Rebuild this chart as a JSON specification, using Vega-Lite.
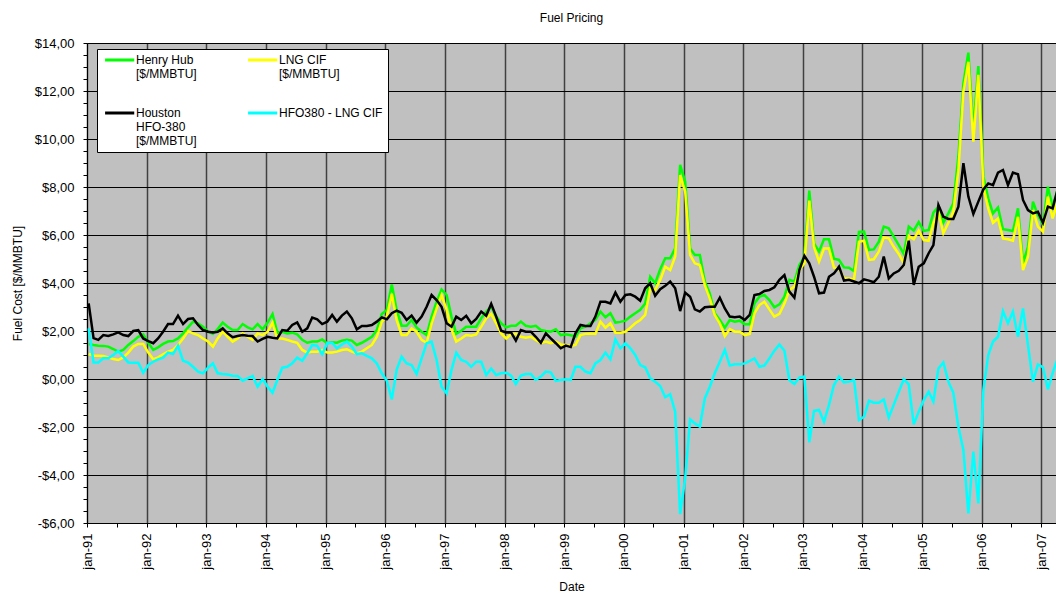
{
  "$schema": "https://vega.github.io/schema/vega-lite/v6.json",
  "width": 969,
  "height": 480,
  "autosize": {"type": "none"},
  "padding": {"left": 87, "top": 43, "right": 0, "bottom": 73},
  "background": "white",
  "title": {"text": "Fuel Pricing", "font": "Liberation Sans", "fontSize": 12, "fontWeight": "normal", "color": "black", "anchor": "middle", "frame": "group", "offset": 12},
  "config": {
    "view": {"fill": "#C0C0C0", "stroke": "#808080", "strokeWidth": 1},
    "axis": {"labelFont": "Liberation Sans", "titleFont": "Liberation Sans", "labelColor": "black", "titleColor": "black", "titleFontWeight": "normal", "labelFontSize": 13, "titleFontSize": 12, "domainColor": "black", "tickColor": "black", "gridColor": "black"},
    "legend": {"labelFont": "Liberation Sans", "labelColor": "black"}
  },
  "data": {"values": [
    {"date":"1991-01","hh":1.46,"lng":1.04,"hfo":3.15,"diff":2.11},
    {"date":"1991-02","hh":1.42,"lng":0.97,"hfo":1.70,"diff":0.69},
    {"date":"1991-03","hh":1.39,"lng":0.97,"hfo":1.63,"diff":0.69},
    {"date":"1991-04","hh":1.38,"lng":0.96,"hfo":1.83,"diff":0.86},
    {"date":"1991-05","hh":1.35,"lng":0.90,"hfo":1.79,"diff":0.86},
    {"date":"1991-06","hh":1.25,"lng":0.83,"hfo":1.86,"diff":1.00},
    {"date":"1991-07","hh":1.14,"lng":0.79,"hfo":1.94,"diff":1.17},
    {"date":"1991-08","hh":1.21,"lng":0.90,"hfo":1.83,"diff":0.93},
    {"date":"1991-09","hh":1.42,"lng":1.10,"hfo":1.79,"diff":0.69},
    {"date":"1991-10","hh":1.58,"lng":1.35,"hfo":2.00,"diff":0.68},
    {"date":"1991-11","hh":1.76,"lng":1.46,"hfo":2.04,"diff":0.68},
    {"date":"1991-12","hh":1.86,"lng":1.46,"hfo":1.69,"diff":0.26},
    {"date":"1992-01","hh":1.51,"lng":1.10,"hfo":1.58,"diff":0.58},
    {"date":"1992-02","hh":1.21,"lng":0.82,"hfo":1.49,"diff":0.72},
    {"date":"1992-03","hh":1.32,"lng":0.90,"hfo":1.69,"diff":0.82},
    {"date":"1992-04","hh":1.46,"lng":1.03,"hfo":1.97,"diff":0.89},
    {"date":"1992-05","hh":1.56,"lng":1.14,"hfo":2.29,"diff":1.10},
    {"date":"1992-06","hh":1.58,"lng":1.21,"hfo":2.29,"diff":1.04},
    {"date":"1992-07","hh":1.69,"lng":1.42,"hfo":2.64,"diff":1.39},
    {"date":"1992-08","hh":1.90,"lng":1.69,"hfo":2.29,"diff":0.76},
    {"date":"1992-09","hh":2.15,"lng":2.00,"hfo":2.50,"diff":0.68},
    {"date":"1992-10","hh":2.39,"lng":1.90,"hfo":2.53,"diff":0.51},
    {"date":"1992-11","hh":2.32,"lng":1.83,"hfo":2.25,"diff":0.31},
    {"date":"1992-12","hh":2.18,"lng":1.69,"hfo":2.04,"diff":0.24},
    {"date":"1993-01","hh":1.97,"lng":1.56,"hfo":1.97,"diff":0.47},
    {"date":"1993-02","hh":1.88,"lng":1.35,"hfo":1.94,"diff":0.65},
    {"date":"1993-03","hh":2.08,"lng":1.69,"hfo":1.97,"diff":0.24},
    {"date":"1993-04","hh":2.35,"lng":1.97,"hfo":2.11,"diff":0.21},
    {"date":"1993-05","hh":2.18,"lng":1.76,"hfo":1.90,"diff":0.19},
    {"date":"1993-06","hh":2.04,"lng":1.56,"hfo":1.74,"diff":0.14},
    {"date":"1993-07","hh":2.04,"lng":1.69,"hfo":1.79,"diff":0.13},
    {"date":"1993-08","hh":2.29,"lng":1.90,"hfo":1.83,"diff":-0.07},
    {"date":"1993-09","hh":2.15,"lng":1.76,"hfo":1.80,"diff":0.03},
    {"date":"1993-10","hh":2.07,"lng":1.63,"hfo":1.79,"diff":0.13},
    {"date":"1993-11","hh":2.29,"lng":1.90,"hfo":1.56,"diff":-0.32},
    {"date":"1993-12","hh":2.07,"lng":1.83,"hfo":1.67,"diff":0.00},
    {"date":"1994-01","hh":2.35,"lng":1.97,"hfo":1.76,"diff":-0.32},
    {"date":"1994-02","hh":2.71,"lng":2.35,"hfo":1.72,"diff":-0.57},
    {"date":"1994-03","hh":1.93,"lng":1.69,"hfo":1.69,"diff":-0.04},
    {"date":"1994-04","hh":1.97,"lng":1.69,"hfo":2.04,"diff":0.47},
    {"date":"1994-05","hh":1.90,"lng":1.63,"hfo":2.01,"diff":0.51},
    {"date":"1994-06","hh":1.93,"lng":1.56,"hfo":2.25,"diff":0.65},
    {"date":"1994-07","hh":1.86,"lng":1.51,"hfo":2.36,"diff":0.89},
    {"date":"1994-08","hh":1.63,"lng":1.21,"hfo":1.97,"diff":0.76},
    {"date":"1994-09","hh":1.51,"lng":1.10,"hfo":2.11,"diff":1.07},
    {"date":"1994-10","hh":1.56,"lng":1.14,"hfo":2.56,"diff":1.42},
    {"date":"1994-11","hh":1.56,"lng":1.14,"hfo":2.49,"diff":1.38},
    {"date":"1994-12","hh":1.65,"lng":1.21,"hfo":2.29,"diff":1.03},
    {"date":"1995-01","hh":1.49,"lng":1.10,"hfo":2.39,"diff":1.49},
    {"date":"1995-02","hh":1.53,"lng":1.10,"hfo":2.67,"diff":1.51},
    {"date":"1995-03","hh":1.51,"lng":1.14,"hfo":2.39,"diff":1.28},
    {"date":"1995-04","hh":1.60,"lng":1.21,"hfo":2.64,"diff":1.44},
    {"date":"1995-05","hh":1.63,"lng":1.24,"hfo":2.81,"diff":1.56},
    {"date":"1995-06","hh":1.60,"lng":1.14,"hfo":2.53,"diff":1.35},
    {"date":"1995-07","hh":1.42,"lng":1.07,"hfo":2.07,"diff":1.04},
    {"date":"1995-08","hh":1.51,"lng":1.14,"hfo":2.21,"diff":1.07},
    {"date":"1995-09","hh":1.63,"lng":1.28,"hfo":2.21,"diff":0.96},
    {"date":"1995-10","hh":1.76,"lng":1.42,"hfo":2.25,"diff":0.86},
    {"date":"1995-11","hh":2.04,"lng":1.76,"hfo":2.39,"diff":0.65},
    {"date":"1995-12","hh":2.71,"lng":2.39,"hfo":2.57,"diff":0.24},
    {"date":"1996-01","hh":2.88,"lng":2.60,"hfo":2.49,"diff":-0.07},
    {"date":"1996-02","hh":3.94,"lng":3.55,"hfo":2.74,"diff":-0.85},
    {"date":"1996-03","hh":2.88,"lng":2.46,"hfo":2.85,"diff":0.38},
    {"date":"1996-04","hh":2.22,"lng":1.83,"hfo":2.76,"diff":0.93},
    {"date":"1996-05","hh":2.22,"lng":1.83,"hfo":2.46,"diff":0.65},
    {"date":"1996-06","hh":2.46,"lng":2.11,"hfo":2.64,"diff":0.58},
    {"date":"1996-07","hh":2.15,"lng":1.97,"hfo":2.35,"diff":0.21},
    {"date":"1996-08","hh":1.97,"lng":1.63,"hfo":2.60,"diff":0.86},
    {"date":"1996-09","hh":1.83,"lng":1.51,"hfo":3.01,"diff":1.49},
    {"date":"1996-10","hh":2.60,"lng":2.32,"hfo":3.50,"diff":1.56},
    {"date":"1996-11","hh":3.22,"lng":2.94,"hfo":3.29,"diff":0.79},
    {"date":"1996-12","hh":3.73,"lng":3.50,"hfo":3.01,"diff":-0.32},
    {"date":"1997-01","hh":3.50,"lng":2.88,"hfo":2.32,"diff":-0.60},
    {"date":"1997-02","hh":2.60,"lng":2.07,"hfo":2.18,"diff":0.38},
    {"date":"1997-03","hh":1.88,"lng":1.56,"hfo":2.60,"diff":1.10},
    {"date":"1997-04","hh":2.01,"lng":1.69,"hfo":2.46,"diff":0.79},
    {"date":"1997-05","hh":2.18,"lng":1.83,"hfo":2.63,"diff":0.72},
    {"date":"1997-06","hh":2.18,"lng":1.80,"hfo":2.32,"diff":0.51},
    {"date":"1997-07","hh":2.18,"lng":1.86,"hfo":2.50,"diff":0.72},
    {"date":"1997-08","hh":2.53,"lng":2.18,"hfo":2.81,"diff":0.72},
    {"date":"1997-09","hh":2.81,"lng":2.53,"hfo":2.64,"diff":0.17},
    {"date":"1997-10","hh":3.01,"lng":2.71,"hfo":3.13,"diff":0.44},
    {"date":"1997-11","hh":2.60,"lng":2.32,"hfo":2.60,"diff":0.17},
    {"date":"1997-12","hh":2.32,"lng":1.90,"hfo":2.01,"diff":0.24},
    {"date":"1998-01","hh":2.15,"lng":1.69,"hfo":1.94,"diff":0.26},
    {"date":"1998-02","hh":2.22,"lng":1.86,"hfo":1.94,"diff":0.14},
    {"date":"1998-03","hh":2.22,"lng":1.88,"hfo":1.60,"diff":-0.21},
    {"date":"1998-04","hh":2.39,"lng":1.76,"hfo":2.04,"diff":0.14},
    {"date":"1998-05","hh":2.22,"lng":1.72,"hfo":1.97,"diff":0.21},
    {"date":"1998-06","hh":2.18,"lng":1.76,"hfo":1.97,"diff":0.21},
    {"date":"1998-07","hh":2.22,"lng":1.63,"hfo":1.76,"diff":-0.04},
    {"date":"1998-08","hh":2.04,"lng":1.49,"hfo":1.51,"diff":0.10},
    {"date":"1998-09","hh":2.00,"lng":1.56,"hfo":1.90,"diff":0.31},
    {"date":"1998-10","hh":1.97,"lng":1.49,"hfo":1.69,"diff":0.28},
    {"date":"1998-11","hh":2.07,"lng":1.56,"hfo":1.49,"diff":-0.08},
    {"date":"1998-12","hh":1.83,"lng":1.44,"hfo":1.28,"diff":-0.04},
    {"date":"1999-01","hh":1.86,"lng":1.42,"hfo":1.39,"diff":-0.01},
    {"date":"1999-02","hh":1.82,"lng":1.38,"hfo":1.33,"diff":-0.04},
    {"date":"1999-03","hh":1.76,"lng":1.42,"hfo":1.90,"diff":0.51},
    {"date":"1999-04","hh":2.11,"lng":1.83,"hfo":2.25,"diff":0.51},
    {"date":"1999-05","hh":2.18,"lng":1.88,"hfo":2.21,"diff":0.31},
    {"date":"1999-06","hh":2.32,"lng":1.90,"hfo":2.21,"diff":0.24},
    {"date":"1999-07","hh":2.46,"lng":1.88,"hfo":2.60,"diff":0.65},
    {"date":"1999-08","hh":2.81,"lng":2.39,"hfo":3.22,"diff":0.79},
    {"date":"1999-09","hh":2.57,"lng":2.14,"hfo":3.22,"diff":1.10},
    {"date":"1999-10","hh":2.74,"lng":2.32,"hfo":3.15,"diff":0.82},
    {"date":"1999-11","hh":2.35,"lng":1.93,"hfo":3.60,"diff":1.65},
    {"date":"1999-12","hh":2.38,"lng":1.93,"hfo":3.22,"diff":1.28},
    {"date":"2000-01","hh":2.43,"lng":1.97,"hfo":3.50,"diff":1.49},
    {"date":"2000-02","hh":2.60,"lng":2.14,"hfo":3.53,"diff":1.28},
    {"date":"2000-03","hh":2.74,"lng":2.32,"hfo":3.43,"diff":1.00},
    {"date":"2000-04","hh":2.88,"lng":2.46,"hfo":3.26,"diff":0.58},
    {"date":"2000-05","hh":3.15,"lng":2.67,"hfo":3.78,"diff":0.49},
    {"date":"2000-06","hh":4.26,"lng":3.78,"hfo":3.99,"diff":0.03},
    {"date":"2000-07","hh":3.99,"lng":3.71,"hfo":3.47,"diff":-0.11},
    {"date":"2000-08","hh":4.57,"lng":4.13,"hfo":3.74,"diff":-0.29},
    {"date":"2000-09","hh":5.03,"lng":4.68,"hfo":3.88,"diff":-0.76},
    {"date":"2000-10","hh":5.03,"lng":4.54,"hfo":4.06,"diff":-0.63},
    {"date":"2000-11","hh":5.44,"lng":5.10,"hfo":3.78,"diff":-1.36},
    {"date":"2000-12","hh":8.92,"lng":8.50,"hfo":2.83,"diff":-5.63},
    {"date":"2001-01","hh":8.22,"lng":7.81,"hfo":3.60,"diff":-4.14},
    {"date":"2001-02","hh":5.44,"lng":5.17,"hfo":3.43,"diff":-1.68},
    {"date":"2001-03","hh":5.17,"lng":4.82,"hfo":2.90,"diff":-1.85},
    {"date":"2001-04","hh":5.17,"lng":4.75,"hfo":2.81,"diff":-1.99},
    {"date":"2001-05","hh":4.06,"lng":3.92,"hfo":2.99,"diff":-0.81},
    {"date":"2001-06","hh":3.57,"lng":3.36,"hfo":3.01,"diff":-0.32},
    {"date":"2001-07","hh":2.74,"lng":2.67,"hfo":3.01,"diff":0.24},
    {"date":"2001-08","hh":2.46,"lng":2.32,"hfo":3.39,"diff":0.72},
    {"date":"2001-09","hh":2.14,"lng":1.79,"hfo":2.94,"diff":1.21},
    {"date":"2001-10","hh":2.46,"lng":2.08,"hfo":2.60,"diff":0.56},
    {"date":"2001-11","hh":2.39,"lng":1.97,"hfo":2.57,"diff":0.61},
    {"date":"2001-12","hh":2.43,"lng":1.97,"hfo":2.60,"diff":0.61},
    {"date":"2002-01","hh":2.28,"lng":1.83,"hfo":2.46,"diff":0.65},
    {"date":"2002-02","hh":2.28,"lng":1.88,"hfo":2.67,"diff":0.75},
    {"date":"2002-03","hh":3.15,"lng":2.74,"hfo":3.50,"diff":0.86},
    {"date":"2002-04","hh":3.43,"lng":3.08,"hfo":3.54,"diff":0.51},
    {"date":"2002-05","hh":3.50,"lng":3.22,"hfo":3.67,"diff":0.56},
    {"date":"2002-06","hh":3.29,"lng":2.90,"hfo":3.71,"diff":0.86},
    {"date":"2002-07","hh":2.99,"lng":2.60,"hfo":3.82,"diff":1.18},
    {"date":"2002-08","hh":3.11,"lng":2.71,"hfo":4.13,"diff":1.44},
    {"date":"2002-09","hh":3.43,"lng":3.15,"hfo":4.33,"diff":1.18},
    {"date":"2002-10","hh":4.13,"lng":3.71,"hfo":3.64,"diff":-0.04},
    {"date":"2002-11","hh":4.06,"lng":3.85,"hfo":3.39,"diff":-0.21},
    {"date":"2002-12","hh":4.75,"lng":4.54,"hfo":4.54,"diff":0.06},
    {"date":"2003-01","hh":5.10,"lng":4.82,"hfo":5.13,"diff":0.10},
    {"date":"2003-02","hh":7.85,"lng":7.43,"hfo":4.82,"diff":-2.64},
    {"date":"2003-03","hh":5.65,"lng":5.51,"hfo":4.26,"diff":-1.33},
    {"date":"2003-04","hh":5.31,"lng":4.89,"hfo":3.57,"diff":-1.29},
    {"date":"2003-05","hh":5.82,"lng":5.44,"hfo":3.60,"diff":-1.78},
    {"date":"2003-06","hh":5.82,"lng":5.44,"hfo":4.26,"diff":-1.08},
    {"date":"2003-07","hh":5.01,"lng":4.64,"hfo":4.40,"diff":-0.25},
    {"date":"2003-08","hh":4.96,"lng":4.61,"hfo":4.68,"diff":0.10},
    {"date":"2003-09","hh":4.65,"lng":4.19,"hfo":4.10,"diff":-0.14},
    {"date":"2003-10","hh":4.64,"lng":4.19,"hfo":4.13,"diff":-0.11},
    {"date":"2003-11","hh":4.50,"lng":4.15,"hfo":4.06,"diff":-0.04},
    {"date":"2003-12","hh":6.13,"lng":5.72,"hfo":3.99,"diff":-1.71},
    {"date":"2004-01","hh":6.14,"lng":5.76,"hfo":4.15,"diff":-1.57},
    {"date":"2004-02","hh":5.38,"lng":4.96,"hfo":4.10,"diff":-0.90},
    {"date":"2004-03","hh":5.40,"lng":4.99,"hfo":4.03,"diff":-0.99},
    {"date":"2004-04","hh":5.72,"lng":5.31,"hfo":4.26,"diff":-0.99},
    {"date":"2004-05","hh":6.35,"lng":5.90,"hfo":5.10,"diff":-0.85},
    {"date":"2004-06","hh":6.28,"lng":5.86,"hfo":4.19,"diff":-1.61},
    {"date":"2004-07","hh":5.93,"lng":5.51,"hfo":4.40,"diff":-1.08},
    {"date":"2004-08","hh":5.58,"lng":5.21,"hfo":4.51,"diff":-0.53},
    {"date":"2004-09","hh":5.21,"lng":4.82,"hfo":4.75,"diff":-0.01},
    {"date":"2004-10","hh":6.35,"lng":5.96,"hfo":5.76,"diff":-0.22},
    {"date":"2004-11","hh":6.18,"lng":5.82,"hfo":3.92,"diff":-1.89},
    {"date":"2004-12","hh":6.54,"lng":6.18,"hfo":4.68,"diff":-1.36},
    {"date":"2005-01","hh":6.17,"lng":5.79,"hfo":4.82,"diff":-0.88},
    {"date":"2005-02","hh":6.21,"lng":5.76,"hfo":5.24,"diff":-0.53},
    {"date":"2005-03","hh":6.93,"lng":6.49,"hfo":5.58,"diff":-0.94},
    {"date":"2005-04","hh":7.18,"lng":6.97,"hfo":7.25,"diff":0.44},
    {"date":"2005-05","hh":6.51,"lng":6.07,"hfo":6.76,"diff":0.69},
    {"date":"2005-06","hh":6.90,"lng":6.51,"hfo":6.67,"diff":-0.11},
    {"date":"2005-07","hh":7.32,"lng":6.97,"hfo":6.67,"diff":-0.57},
    {"date":"2005-08","hh":9.26,"lng":8.71,"hfo":7.18,"diff":-1.99},
    {"date":"2005-09","hh":12.32,"lng":11.97,"hfo":8.99,"diff":-2.96},
    {"date":"2005-10","hh":13.60,"lng":13.22,"hfo":7.60,"diff":-5.60},
    {"date":"2005-11","hh":10.38,"lng":9.89,"hfo":6.88,"diff":-3.03},
    {"date":"2005-12","hh":13.04,"lng":12.67,"hfo":7.39,"diff":-5.18},
    {"date":"2006-01","hh":8.43,"lng":8.01,"hfo":7.90,"diff":-0.46},
    {"date":"2006-02","hh":7.53,"lng":7.11,"hfo":8.15,"diff":1.00},
    {"date":"2006-03","hh":6.90,"lng":6.51,"hfo":8.08,"diff":1.56},
    {"date":"2006-04","hh":7.15,"lng":6.69,"hfo":8.60,"diff":1.76},
    {"date":"2006-05","hh":6.24,"lng":5.86,"hfo":8.71,"diff":2.83},
    {"date":"2006-06","hh":6.21,"lng":5.82,"hfo":8.08,"diff":2.32},
    {"date":"2006-07","hh":6.17,"lng":5.76,"hfo":8.60,"diff":2.81},
    {"date":"2006-08","hh":7.11,"lng":6.76,"hfo":8.53,"diff":1.76},
    {"date":"2006-09","hh":4.82,"lng":4.54,"hfo":7.46,"diff":2.94},
    {"date":"2006-10","hh":5.51,"lng":5.10,"hfo":7.04,"diff":1.42},
    {"date":"2006-11","hh":7.39,"lng":7.04,"hfo":6.90,"diff":-0.11},
    {"date":"2006-12","hh":6.83,"lng":6.35,"hfo":6.97,"diff":0.61},
    {"date":"2007-01","hh":6.42,"lng":6.14,"hfo":6.51,"diff":0.49},
    {"date":"2007-02","hh":8.01,"lng":7.60,"hfo":7.18,"diff":-0.43},
    {"date":"2007-03","hh":7.18,"lng":6.69,"hfo":7.11,"diff":0.24},
    {"date":"2007-04","hh":7.90,"lng":7.40,"hfo":7.90,"diff":0.85}
  ]},
  "transform": [{"fold": ["hh", "lng", "hfo", "diff"], "as": ["series", "value"]}],
  "mark": {"type": "line", "strokeWidth": 2.5, "clip": true},
  "encoding": {
    "x": {
      "field": "date", "type": "temporal", "timeUnit": "utcyearmonth", "bandPosition": 0.33,
      "scale": {"type": "utc", "domain": [{"year": 1991, "month": 1, "date": 1, "utc": true}, {"year": 2007, "month": 4, "date": 1, "utc": true}]},
      "axis": {
        "title": "Date", "titlePadding": 12,
        "tickCount": {"interval": "month", "step": 6},
        "labelExpr": "utcmonth(datum.value) == 0 ? lower(utcFormat(datum.value, '%b-%y')) : ''",
        "labelAngle": 270, "labelAlign": "right", "labelBaseline": "middle", "labelPadding": 6,
        "labelOverlap": false, "labelFlush": false,
        "tickSize": 4, "grid": true, "gridColor": "#404040", "gridWidth": 1.5,
        "gridOpacity": {"condition": {"test": "utcmonth(datum.value) == 0", "value": 1}, "value": 0}
      }
    },
    "y": {
      "field": "value", "type": "quantitative",
      "scale": {"domain": [-6, 14], "nice": false, "zero": false},
      "axis": {
        "title": "Fuel Cost [$/MMBTU]", "titlePadding": 10,
        "values": [-6,-5.5,-5,-4.5,-4,-3.5,-3,-2.5,-2,-1.5,-1,-0.5,0,0.5,1,1.5,2,2.5,3,3.5,4,4.5,5,5.5,6,6.5,7,7.5,8,8.5,9,9.5,10,10.5,11,11.5,12,12.5,13,13.5,14],
        "labelExpr": "datum.value % 2 == 0 ? (datum.value < 0 ? '-' : '') + '$' + abs(datum.value) + ',00' : ''",
        "labelPadding": 9, "tickSize": 4, "labelOverlap": false,
        "grid": true, "gridWidth": 1,
        "gridOpacity": {"condition": {"test": "datum.value % 2 == 0", "value": 1}, "value": 0}
      }
    },
    "color": {
      "field": "series", "type": "nominal",
      "scale": {"domain": ["hh", "lng", "hfo", "diff"], "range": ["#00FF00", "#FFFF00", "#000000", "#00FFFF"]},
      "legend": {
        "title": null, "orient": "none", "legendX": 10, "legendY": 6, "columns": 2, "direction": "horizontal",
        "fillColor": "white", "strokeColor": "black", "padding": 5,
        "symbolType": "M-1,0H9", "symbolSize": 34, "symbolStrokeWidth": 3,
        "labelFontSize": 12, "labelOffset": 22, "columnPadding": 45, "rowPadding": 27,
        "labelBaseline": "middle", "labelLimit": 300,
        "labelExpr": "datum.label == 'hh' ? ['Henry Hub', '[$/MMBTU]'] : datum.label == 'lng' ? ['LNG CIF', '[$/MMBTU]'] : datum.label == 'hfo' ? ['Houston', 'HFO-380', '[$/MMBTU]'] : 'HFO380 - LNG CIF'"
      }
    }
  }
}
